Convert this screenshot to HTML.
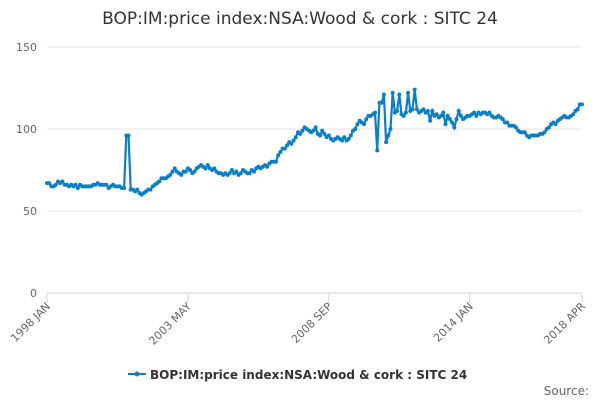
<!DOCTYPE html>
<html><head><meta charset="utf-8"><style>
body{margin:0;background:#fff;font-family:"DejaVu Sans",sans-serif;}
svg text{font-family:"DejaVu Sans",sans-serif;}
</style></head><body>
<svg width="600" height="400" id="c">
<text x="300" y="24" text-anchor="middle" font-size="17" fill="#333">BOP:IM:price index:NSA:Wood &amp; cork : SITC 24</text>
<g id="grid"></g><g id="axes"></g><g id="series"></g>
<g>
<line x1="128" y1="374" x2="146" y2="374" stroke="#0a7fc4" stroke-width="2"/>
<circle cx="137" cy="374" r="2.5" fill="#0a7fc4"/>
<text x="150" y="379" font-size="12" font-weight="bold" fill="#333">BOP:IM:price index:NSA:Wood &amp; cork : SITC 24</text>
</g>
<text x="589" y="395" text-anchor="end" font-size="12" fill="#666">Source:</text>
</svg>
<script>
const yTicks=[0,50,100,150];
const xLabels=["1998 JAN","2003 MAY","2008 SEP","2014 JAN","2018 APR"];
const xLabelIdx=[0,64,128,192,243];
const values=[
67,67,65,65,66,68,67,68,66,66,65,66,
65,66,64,66,65,65,65,65,65,66,66,67,
66,66,66,66,64,65,66,65,65,65,64,64,
96,96,63,63,62,63,61,60,61,62,63,63,
65,66,67,68,70,70,70,71,72,74,76,74,
73,72,74,74,76,75,73,74,76,77,78,77,
76,78,76,75,76,74,73,73,72,73,72,73,
75,73,74,72,73,75,74,73,73,75,74,76,
77,76,77,78,77,79,80,80,80,84,86,88,
88,90,92,91,93,95,98,97,99,101,100,99,
98,99,101,97,96,99,97,95,96,94,93,94,
95,94,93,95,93,94,96,99,100,103,105,104,
103,106,108,108,109,110,87,116,116,121,92,96,
100,122,110,111,121,109,108,110,122,111,112,124,
112,110,111,112,110,111,105,111,108,109,107,108,
110,103,108,106,104,101,106,111,108,106,107,108,
108,109,110,108,110,109,110,110,109,110,108,107,
107,108,107,106,104,104,102,102,102,101,99,98,
98,98,96,95,96,96,96,96,97,97,98,100,
101,103,104,103,105,106,107,108,107,107,108,109,
111,112,115,115];
const NS="http://www.w3.org/2000/svg";
const x0=47,x1=582,y0=293,y1=47;
const xs=i=>x0+(x1-x0)*i/(values.length-1);
const ys=v=>y0-(y0-y1)*v/150;
function mk(t,a,p){const e=document.createElementNS(NS,t);for(const k in a)e.setAttribute(k,a[k]);p.appendChild(e);return e;}
const grid=document.getElementById('grid'),axes=document.getElementById('axes'),ser=document.getElementById('series');
yTicks.forEach(v=>{
 const l=mk('line',{x1:x0,x2:x1,y1:ys(v),y2:ys(v),stroke:v===0?'#ccd6eb':'#e6e6e6'},grid);
 
 
 const t=mk('text',{x:x0-10,y:ys(v)+4,'text-anchor':'end','font-size':11,fill:'#666'},axes);
 t.textContent=v;
 
 
});
xLabels.forEach((s,k)=>{
 const x=xs(xLabelIdx[k]);
 mk('line',{x1:x,x2:x,y1:y0,y2:y0+10,stroke:'#ccd6eb'},axes);
 const t=mk('text',{x:x+4,y:y0+14,'text-anchor':'end','font-size':11,fill:'#666',transform:`rotate(-45 ${x+4} ${y0+14})`},axes);
 t.textContent=s;
 
 
});
const p=mk('path',{d:values.map((v,i)=>(i?'L':'M')+xs(i).toFixed(1)+' '+ys(v).toFixed(1)).join(''),fill:'none',stroke:'#0a7fc4','stroke-width':2.2},ser);


values.forEach((v,i)=>{
 const c=mk('circle',{cx:xs(i),cy:ys(v),r:2,fill:'#0a7fc4'},ser);
 
 
});
</script>
</body></html>
